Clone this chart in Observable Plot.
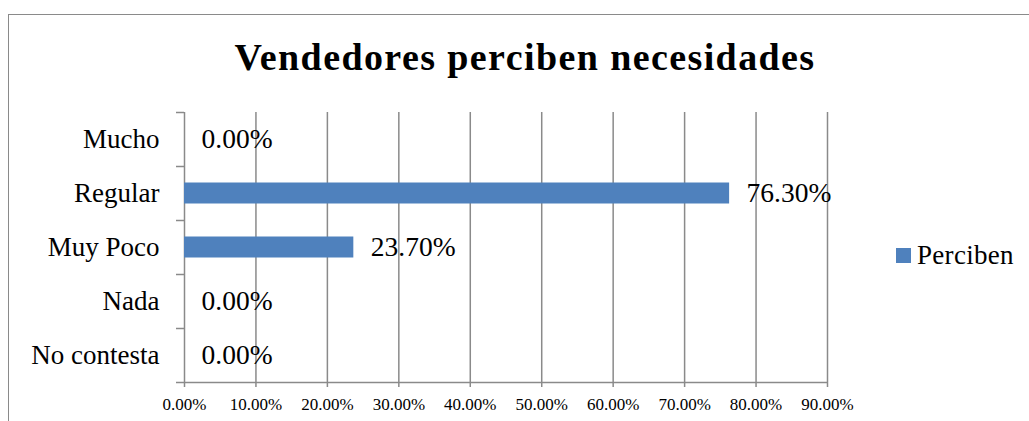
<!DOCTYPE html>
<html>
<head>
<meta charset="utf-8">
<script src="https://cdn.jsdelivr.net/npm/d3@7"></script>
<script src="https://cdn.jsdelivr.net/npm/@observablehq/plot@0.6"></script>
<style>
  html, body { margin: 0; padding: 0; background: #fff; }
  #wrap { position: relative; width: 1029px; height: 421px; overflow: hidden; font-family: "Liberation Serif", serif; }
  #frame { position: absolute; left: 8px; top: 14px; width: 1100px; height: 500px; border: 1.5px solid #8a8a8a; box-sizing: border-box; pointer-events: none; }
  #title { position: relative; height: 90px; box-sizing: border-box; padding-top: 38px; }
  #title span { position: absolute; left: 525px; top: 38px; transform: translateX(-50%); white-space: nowrap; font-weight: bold; font-size: 38px; line-height: 38px; letter-spacing: 1.4px; color: #000; }
  #legend { position: absolute; left: 896px; top: 239.5px; display: flex; align-items: flex-start; white-space: nowrap; }
  #legend .sw { width: 15px; height: 15px; background: #4F81BD; margin-right: 6px; margin-top: 8.5px; }
  #legend .lb { font-size: 27px; letter-spacing: 0.3px; color: #000; line-height: 30px; }
  svg { display: block; }
</style>
</head>
<body>
<div id="wrap">
  <div id="title"><span></span></div>
  <div id="chart"></div>
  <div id="legend"><div class="sw"></div><div class="lb"></div></div>
  <div id="frame"></div>
</div>
<script>
const title = "Vendedores perciben necesidades";
const seriesName = "Perciben";
const categories = ["Mucho", "Regular", "Muy Poco", "Nada", "No contesta"];
const values = [0.0, 0.763, 0.237, 0.0, 0.0];
const xTicks = [0, 0.1, 0.2, 0.3, 0.4, 0.5, 0.6, 0.7, 0.8, 0.9];

const data = categories.map((c, i) => ({category: c, value: values[i]}));
const fmt = d3.format(".2%");
const gridColor = "#8a8a8a";
const band = 54; // band height in px, used for half-band offsets

document.querySelector("#title span").textContent = title;
document.querySelector("#legend .lb").textContent = seriesName;

const chart = Plot.plot({
  width: 1029,
  height: 331,
  marginLeft: 184,
  marginRight: 202,
  marginTop: 22,
  marginBottom: 39,
  style: {fontFamily: "Liberation Serif, serif", color: "#000", background: "transparent"},
  x: {domain: [0, 0.9], ticks: xTicks, tickFormat: fmt},
  y: {domain: categories, padding: 0},
  marks: [
    Plot.ruleX(xTicks.slice(1), {stroke: gridColor, strokeWidth: 1.5}),
    Plot.ruleX([0], {stroke: gridColor, strokeWidth: 1.5}),
    Plot.ruleY(categories, {y: d => d, x1: 0, x2: 0, insetLeft: -8, dy: -band / 2, stroke: gridColor, strokeWidth: 1.5}),
    Plot.ruleY([categories[categories.length - 1]], {y: d => d, x1: 0, x2: 0.9, insetLeft: -8, dy: band / 2, stroke: gridColor, strokeWidth: 1.5}),
    Plot.barX(data, {x: "value", y: "category", fill: "#4F81BD", insetTop: 16.5, insetBottom: 16.5}),
    Plot.text(data, {x: "value", y: "category", text: d => fmt(d.value), textAnchor: "start", dx: 17, fontSize: 27.5, fill: "#000"}),
    Plot.axisX({ticks: xTicks, tickFormat: fmt, tickSize: 5, tickPadding: 10, fontSize: 17, stroke: gridColor, strokeWidth: 1.5, label: null}),
    Plot.axisY({tickSize: 0, tickPadding: 25, fontSize: 27, label: null})
  ]
});
document.getElementById("chart").appendChild(chart);
</script>
</body>
</html>
